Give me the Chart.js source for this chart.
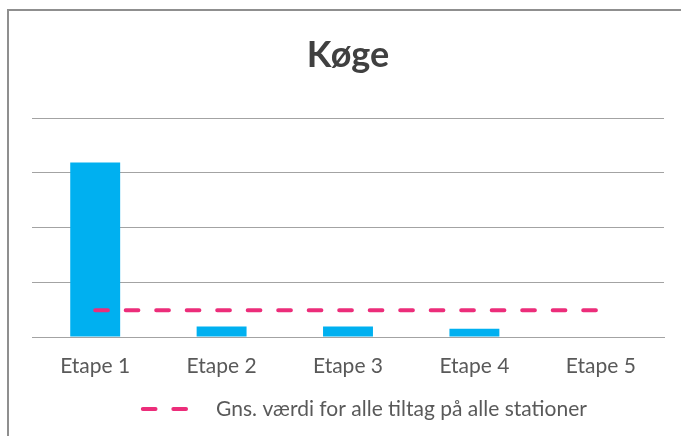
<!DOCTYPE html>
<html>
<head>
<meta charset="utf-8">
<script src="https://cdn.jsdelivr.net/npm/chart.js@4.4.0/dist/chart.umd.min.js"></script>
<style>
  html, body { margin: 0; padding: 0; background: #fff; }
  #wrap { position: relative; width: 681px; height: 436px; overflow: hidden; }
  #frame { position: absolute; left: 7px; top: 9px; width: 700px; height: 460px;
           border-left: 2px solid #8f8f8f; border-top: 2px solid #8f8f8f; }
  #mycanvas { position: absolute; left: 0; top: 0; }
</style>
</head>
<body>
<div id="wrap">
  <div id="frame"></div>
  <canvas id="mycanvas" width="681" height="436"></canvas>
</div>
<script>
var chartTitle = "Køge";
var etaper = ["Etape 1", "Etape 2", "Etape 3", "Etape 4", "Etape 5"];
var vaerdier = [3.19, 0.19, 0.19, 0.15, 0];
var gennemsnit = [0.49, 0.49, 0.49, 0.49, 0.49];
var lineLabel = "Gns. værdi for alle tiltag på alle stationer";

var textColor = "#595959";
var gridColor = "#a3a3a3";
var pink = "#ec2d7a";

var ctx = document.getElementById("mycanvas");
var chart = new Chart(ctx, {
	type: 'bar',
	data: {
		labels: etaper,
		datasets: [
		{
			type: 'line',
			label: lineLabel,
			data: gennemsnit,
			borderColor: pink,
			backgroundColor: pink,
			borderWidth: 4,
			borderDash: [12.7, 17.8],
			borderCapStyle: 'round',
			pointRadius: 0,
			fill: false,
			order: 0
		},
		{
			label: "Køge",
			data: vaerdier,
			backgroundColor: "#00b0f0",
			borderWidth: 0,
			categoryPercentage: 1,
			barPercentage: 0.395,
			order: 1
		}
		]
	},
	options: {
		responsive: false,
		animation: false,
		layout: { padding: { left: 32, right: 17, top: 0, bottom: 6.5 } },
		plugins: {
			title: {
				display: true,
				text: chartTitle,
				color: "#404040",
				font: { family: "Lato", size: 36, weight: 'bold' },
				padding: { top: 34, bottom: 41 }
			},
			legend: {
				display: true,
				position: 'bottom',
				labels: {
					// only the dashed average line is in the legend, two dashes next to the text
					generateLabels: function(c) {
						var items = Chart.defaults.plugins.legend.labels.generateLabels(c);
						items = items.filter(function(it) { return it.datasetIndex === 0; });
						items.forEach(function(it) {
							it.pointStyle = 'line';
							it.strokeStyle = pink;
							it.lineWidth = 4;
							it.lineCap = 'round';
							it.lineDash = [12.7, 17.8, 12.7, 80];
							it.lineDashOffset = 89.5;
						});
						return items;
					},
					usePointStyle: true,
					pointStyleWidth: 96.5,
					boxHeight: 21,
					color: textColor,
					font: { family: "Lato", size: 21 },
					padding: 3.5
				}
			},
			tooltip: { enabled: false }
		},
		scales: {
			x: {
				grid: { display: false, drawTicks: false },
				border: { display: true, color: gridColor, width: 1 },
				ticks: { color: textColor, font: { family: "Lato", size: 21 }, padding: 16.4 }
			},
			y: {
				min: 0,
				max: 4,
				ticks: { display: false, stepSize: 1 },
				grid: { color: gridColor, lineWidth: 1, drawTicks: false },
				border: { display: false }
			}
		}
	}
});
</script>
</body>
</html>
